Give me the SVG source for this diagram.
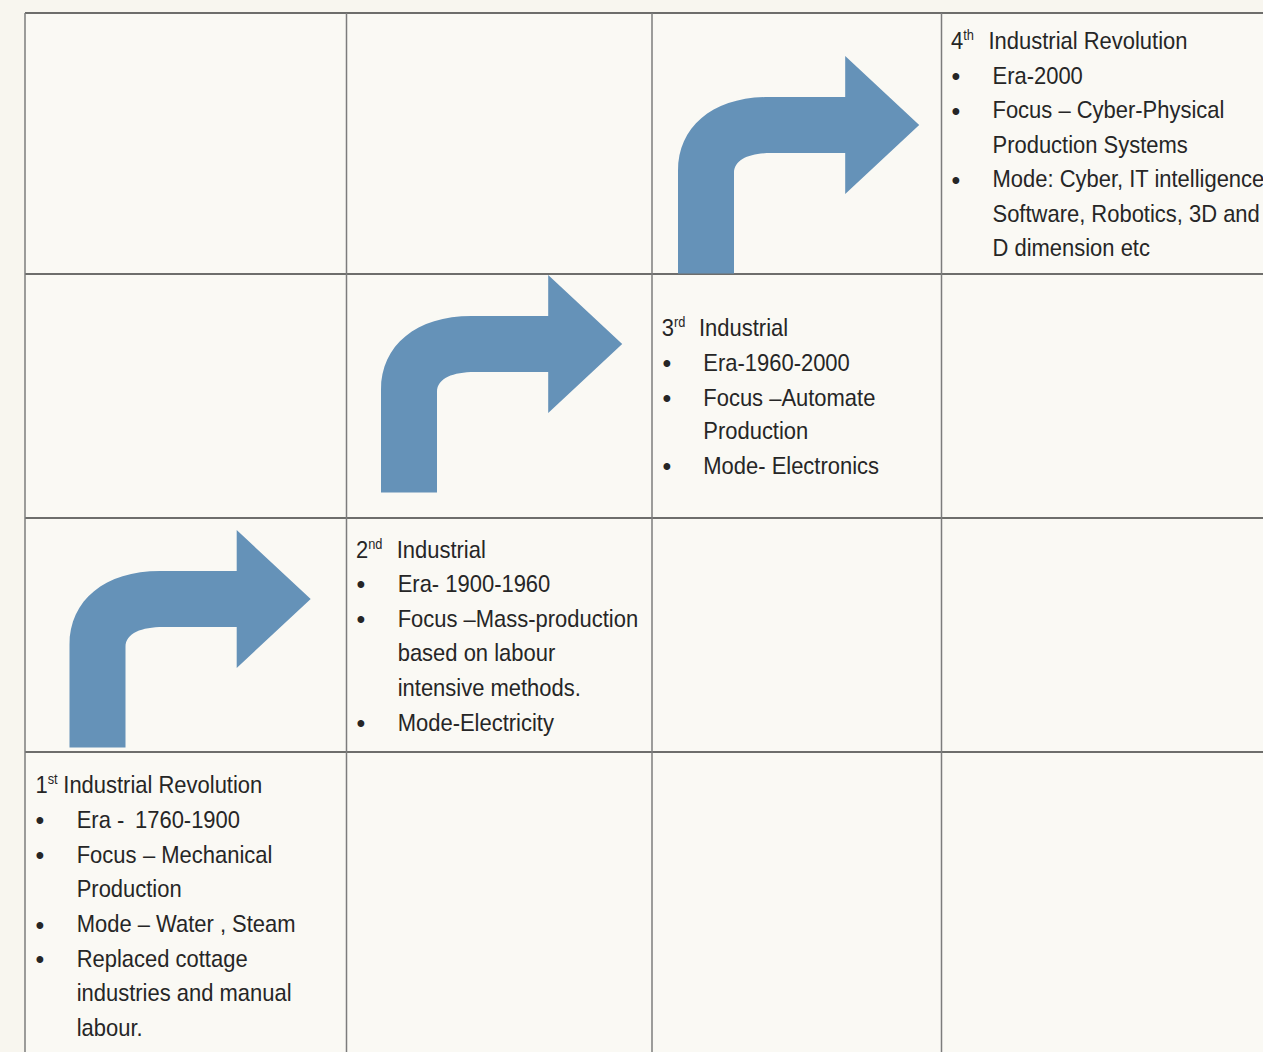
<svg xmlns="http://www.w3.org/2000/svg" width="1263" height="1052" viewBox="0 0 1263 1052">
<style>
.bg{fill:#f8f6ef}
.cell{fill:#faf9f4}
.h{stroke:#3f3f3f;stroke-width:1.3;fill:none}
.v{stroke:#7c7c7c;stroke-width:1.5;fill:none}
.t{font-family:"Liberation Sans",Arial,sans-serif;font-size:24px;fill:#262626}
.sup{font-size:14px}
.b{font-family:"Liberation Sans",Arial,sans-serif;font-size:25px;fill:#262626;text-anchor:middle}
.arrow{fill:#6592b8}
</style>
<defs>
<path id="arr" d="M69.5,747.5 L69.5,645 C69.5,600 105,571 160,571 L236.7,571 L236.7,530 L310.7,599 L236.7,668 L236.7,627 L163,627 C142,627 125.5,633 125.5,647 L125.5,747.5 Z"/>
</defs>
<rect class="bg" x="0" y="0" width="1263" height="1052"/>
<rect class="cell" x="25" y="13" width="1238" height="1039"/>
<g id="grid">
<line class="h" x1="25" y1="13" x2="1263" y2="13"/>
<line class="h" x1="25" y1="274" x2="1263" y2="274"/>
<line class="h" x1="25" y1="518" x2="1263" y2="518"/>
<line class="h" x1="25" y1="752" x2="1263" y2="752"/>
<line class="v" x1="25" y1="13" x2="25" y2="1052"/>
<line class="v" x1="346.5" y1="13" x2="346.5" y2="1052"/>
<line class="v" x1="652" y1="13" x2="652" y2="1052"/>
<line class="v" x1="941.5" y1="13" x2="941.5" y2="1052"/>
</g>
<g id="connectors">
<use href="#arr" class="arrow"/>
<use href="#arr" class="arrow" transform="translate(311.5,-255)"/>
<use href="#arr" class="arrow" transform="translate(608.5,-474)"/>
</g>
<g id="rev1">
<text class="t" transform="translate(35.5,793.3) scale(.915,1)">1<tspan class="sup" dy="-9">st</tspan></text>
<text class="t" transform="translate(63.3,793.3) scale(.915,1)">Industrial Revolution</text>
<text class="b" x="40" y="829">•</text><text class="t" transform="translate(76.7,827.7) scale(.915,1)">Era -</text><text class="t" transform="translate(135,827.7) scale(.915,1)">1760-1900</text>
<text class="b" x="40" y="864">•</text><text class="t" transform="translate(76.7,862.7) scale(.915,1)">Focus</text><text class="t" transform="translate(143,862.7) scale(.915,1)">– Mechanical</text>
<text class="t" transform="translate(76.7,897.3) scale(.915,1)">Production</text>
<text class="b" x="40" y="933.5">•</text><text class="t" transform="translate(76.7,932.3) scale(.915,1)">Mode – Water , Steam</text>
<text class="b" x="40" y="968">•</text><text class="t" transform="translate(76.7,966.7) scale(.915,1)">Replaced cottage</text>
<text class="t" transform="translate(76.7,1001) scale(.915,1)">industries and manual</text>
<text class="t" transform="translate(76.7,1035.7) scale(.915,1)">labour.</text>
</g>
<g id="rev2">
<text class="t" transform="translate(356,558.3) scale(.915,1)">2<tspan class="sup" dy="-9">nd</tspan></text>
<text class="t" transform="translate(396.7,558.3) scale(.915,1)">Industrial</text>
<text class="b" x="361" y="593">•</text><text class="t" transform="translate(397.7,591.7) scale(.915,1)">Era- 1900-1960</text>
<text class="b" x="361" y="628">•</text><text class="t" transform="translate(397.7,626.7) scale(.915,1)">Focus –Mass-production</text>
<text class="t" transform="translate(397.7,660.7) scale(.915,1)">based on labour</text>
<text class="t" transform="translate(397.7,695.7) scale(.915,1)">intensive methods.</text>
<text class="b" x="361" y="732">•</text><text class="t" transform="translate(397.7,730.7) scale(.915,1)">Mode-Electricity</text>
</g>
<g id="rev3">
<text class="t" transform="translate(661.7,335.7) scale(.915,1)">3<tspan class="sup" dy="-9">rd</tspan></text>
<text class="t" transform="translate(699,335.7) scale(.915,1)">Industrial</text>
<text class="b" x="667" y="372">•</text><text class="t" transform="translate(703.3,370.7) scale(.915,1)">Era-1960-2000</text>
<text class="b" x="667" y="407">•</text><text class="t" transform="translate(703.3,405.7) scale(.915,1)">Focus –Automate</text>
<text class="t" transform="translate(703.3,439.3) scale(.915,1)">Production</text>
<text class="b" x="667" y="475.3">•</text><text class="t" transform="translate(703.3,474) scale(.915,1)">Mode- Electronics</text>
</g>
<g id="rev4">
<text class="t" transform="translate(951,49.3) scale(.915,1)">4<tspan class="sup" dy="-9">th</tspan></text>
<text class="t" transform="translate(988.5,49.3) scale(.915,1)">Industrial Revolution</text>
<text class="b" x="956" y="85.3">•</text><text class="t" transform="translate(992.5,84) scale(.915,1)">Era-2000</text>
<text class="b" x="956" y="119.6">•</text><text class="t" transform="translate(992.5,118.3) scale(.915,1)">Focus – Cyber-Physical</text>
<text class="t" transform="translate(992.5,152.7) scale(.915,1)">Production Systems</text>
<text class="b" x="956" y="188.6">•</text><text class="t" transform="translate(992.5,187.3) scale(.915,1)">Mode: Cyber, IT intelligence</text>
<text class="t" transform="translate(992.5,221.7) scale(.915,1)">Software, Robotics, 3D and</text>
<text class="t" transform="translate(992.5,256) scale(.915,1)">D dimension etc</text>
</g>
</svg>
